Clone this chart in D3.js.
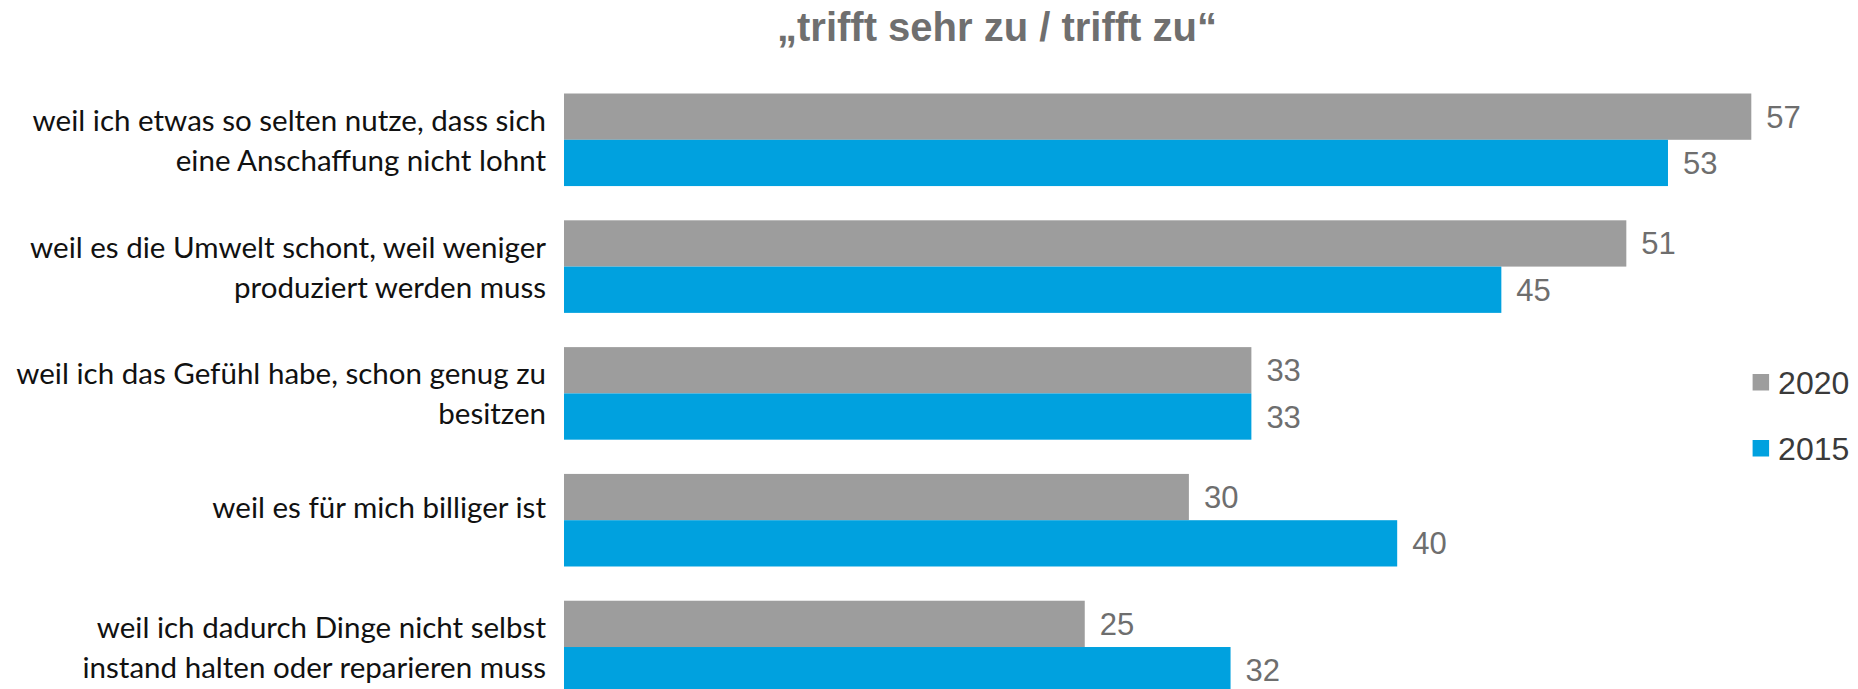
<!DOCTYPE html>
<html>
<head>
<meta charset="utf-8">
<script src="https://cdn.jsdelivr.net/npm/d3@7"></script>
<style>
  html, body { margin: 0; padding: 0; background: #fff; overflow: hidden; }
</style>
</head>
<body>
<svg id="chart"></svg>
<script>
// data
const categories = [
  ["weil ich etwas so selten nutze, dass sich", "eine Anschaffung nicht lohnt"],
  ["weil es die Umwelt schont, weil weniger", "produziert werden muss"],
  ["weil ich das Gefühl habe, schon genug zu", "besitzen"],
  ["weil es für mich billiger ist"],
  ["weil ich dadurch Dinge nicht selbst", "instand halten oder reparieren muss"]
];
const seriesNames = ["2020", "2015"];
const values2020 = [57, 51, 33, 30, 25];
const values2015 = [53, 45, 33, 40, 32];
const titleText = "\u201Etrifft sehr zu / trifft zu\u201C";

const colors = { "2020": "#9d9d9d", "2015": "#00a1df" };

const width = 1858, height = 689;
const svg = d3.select("#chart").attr("width", width).attr("height", height);

const ids = categories.map((d, i) => "c" + i);
const yScale = d3.scaleBand().domain(ids).range([93.5, 693.3]).paddingInner(0.27).paddingOuter(0);
const ySub = d3.scaleBand().domain(seriesNames).range([0, yScale.bandwidth()]);
const xScale = d3.scaleLinear().domain([0, 57]).range([564, 1751.3]);

const rows = ids.map((id, i) => ({ id, label: categories[i], v: { "2020": values2020[i], "2015": values2015[i] } }));

// title
svg.append("text")
  .attr("x", 997).attr("y", 41)
  .attr("text-anchor", "middle")
  .style("font-family", "'Liberation Sans', Arial, sans-serif")
  .style("font-weight", "bold")
  .style("font-size", "40px")
  .attr("fill", "#6f6f6f")
  .text(titleText);

// bars
const groups = svg.selectAll(".grp").data(rows).join("g").attr("class", "grp")
  .attr("transform", d => `translate(0,${yScale(d.id)})`);

groups.selectAll("rect").data(d => seriesNames.map(s => ({ s, v: d.v[s] }))).join("rect")
  .attr("x", xScale(0))
  .attr("y", d => ySub(d.s))
  .attr("width", d => xScale(d.v) - xScale(0))
  .attr("height", ySub.bandwidth())
  .attr("fill", d => colors[d.s]);

groups.selectAll(".val").data(d => seriesNames.map(s => ({ s, v: d.v[s] }))).join("text").attr("class", "val")
  .attr("x", d => xScale(d.v) + 15)
  .attr("y", d => ySub(d.s) + ySub.bandwidth() / 2 + 11)
  .style("font-family", "'Liberation Sans', Arial, sans-serif")
  .style("font-size", "31px")
  .attr("fill", "#6e6e6e")
  .text(d => d.v);

// category labels
const labelFont = 28;
const lab = groups.append("text")
  .attr("text-anchor", "end")
  .style("font-family", "Lato, 'Open Sans', sans-serif")
  .style("font-size", labelFont + "px")
  .attr("fill", "#111");

lab.each(function (d) {
  const t = d3.select(this);
  const c = yScale.bandwidth() / 2;
  const n = d.label.length;
  const first = n === 1 ? c - 2 : c - 9;
  d.label.forEach((line, k) => {
    t.append("tspan").attr("x", 546).attr("y", first + k * 40).text(line);
  });
});

// fit label font width to the reference (longest line ~515px)
let maxW = 0;
lab.selectAll("tspan").each(function () { maxW = Math.max(maxW, this.getComputedTextLength()); });
if (maxW > 0) lab.style("font-size", (labelFont * 530 / maxW) + "px");

// legend
const legend = svg.selectAll(".leg").data(seriesNames).join("g").attr("class", "leg")
  .attr("transform", (d, i) => `translate(1752.6,${374 + i * 66})`);
legend.append("rect").attr("width", 16.5).attr("height", 16.5).attr("fill", d => colors[d]);
legend.append("text")
  .attr("x", 25.5).attr("y", 20)
  .style("font-family", "'Liberation Sans', Arial, sans-serif")
  .style("font-size", "32px")
  .attr("fill", "#3a3a3a")
  .text(d => d);
</script>
</body>
</html>
